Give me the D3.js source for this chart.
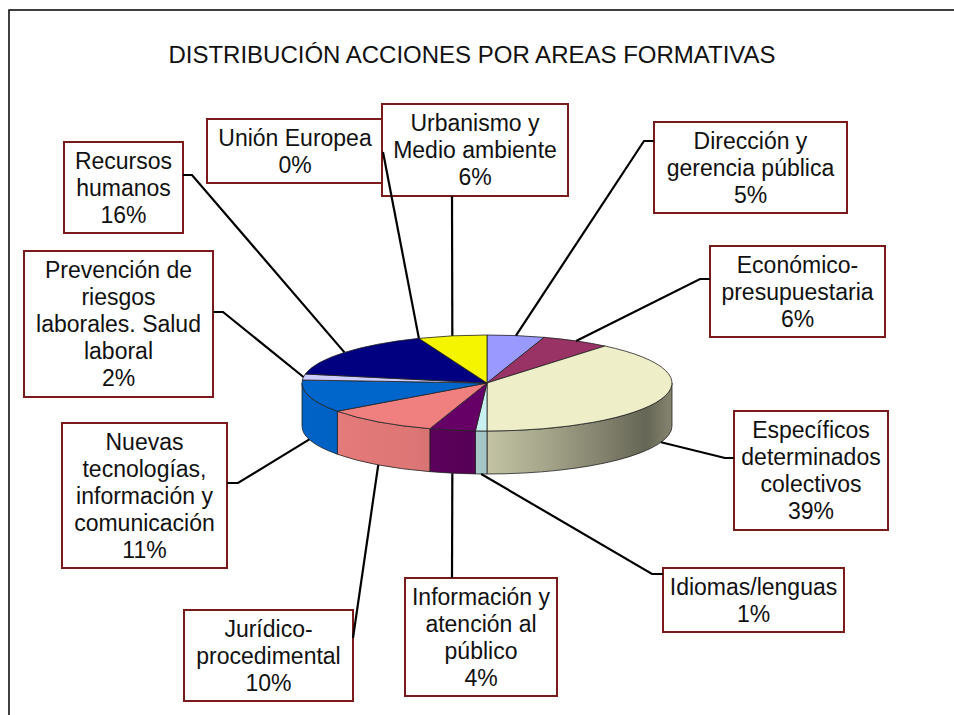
<!DOCTYPE html>
<html>
<head>
<meta charset="utf-8">
<script src="https://cdn.jsdelivr.net/npm/d3@7"></script>
<style>
  body { margin: 0; background: #fff; }
  text { font-family: "Liberation Sans", Arial, sans-serif; fill: #111; }
</style>
</head>
<body>
<script>
const title = "DISTRIBUCIÓN ACCIONES POR AREAS FORMATIVAS";

const categories = [
  "Dirección y gerencia pública",
  "Económico-presupuestaria",
  "Específicos determinados colectivos",
  "Idiomas/lenguas",
  "Información y atención al público",
  "Jurídico-procedimental",
  "Nuevas tecnologías, información y comunicación",
  "Prevención de riesgos laborales. Salud laboral",
  "Recursos humanos",
  "Unión Europea",
  "Urbanismo y Medio ambiente"
];

const values = [5, 6, 39, 1, 4, 10, 11, 2, 16, 0, 6];

const colors = [
  "#9999FF", "#993366", "#EEEEC8", "#C8F0F0", "#660066", "#F08080",
  "#0066CC", "#CCCCFF", "#000080", "#FF00FF", "#F5F500"
];

// label text, wrapped the way the original boxes wrap it
const labelLines = [
  ["Dirección y", "gerencia pública"],
  ["Económico-", "presupuestaria"],
  ["Específicos", "determinados", "colectivos"],
  ["Idiomas/lenguas"],
  ["Información y", "atención al", "público"],
  ["Jurídico-", "procedimental"],
  ["Nuevas", "tecnologías,", "información y", "comunicación"],
  ["Prevención de", "riesgos", "laborales. Salud", "laboral"],
  ["Recursos", "humanos"],
  ["Unión Europea"],
  ["Urbanismo y", "Medio ambiente"]
];

// label box layout: [x, y, w, h], where the leader meets it, optional elbow
const boxes = [
  { r: [654, 122, 193, 91], at: [654, 141], elbow: [644, 141] },
  { r: [710, 246, 175, 91], at: [710, 279], elbow: [700, 279] },
  { r: [734, 411, 154, 119], at: [734, 458], elbow: [725, 458] },
  { r: [663, 568, 181, 64], at: [663, 574], elbow: [652, 574] },
  { r: [405, 578, 152, 118], at: [452, 578], elbow: null },
  { r: [184, 610, 169, 91], at: [353, 638], elbow: null },
  { r: [62, 423, 165, 145], at: [227, 483], elbow: [238, 483] },
  { r: [24, 251, 189, 146], at: [213, 312], elbow: [223, 312] },
  { r: [64, 142, 119, 91], at: [183, 175], elbow: [192, 175] },
  { r: [207, 119, 176, 64], at: [383, 152], elbow: null },
  { r: [382, 104, 186, 92], at: [452, 196], elbow: null }
];

const width = 954, height = 715;
const cx = 487, cy = 383, rx = 185, ry = 48, depth = 43;

const svg = d3.select('body').append('svg')
  .attr('width', width)
  .attr('height', height);

// outer frame (only top and left edges show in the picture)
svg.append('path')
  .attr('d', `M9,${height} L9,10 L${width},10`)
  .attr('fill', 'none')
  .attr('stroke', '#000')
  .attr('stroke-width', 1.5);

svg.append('text')
  .attr('x', 472)
  .attr('y', 63)
  .attr('text-anchor', 'middle')
  .style('font-size', '24px')
  .text(title);

const arcs = d3.pie().sort(null).value(d => d)(values);

const pt = (a, dy = 0) => [cx + rx * Math.sin(a), cy - ry * Math.cos(a) + dy];
const fmt = p => `${p[0].toFixed(2)},${p[1].toFixed(2)}`;

// side wall gradients, lit from the left, dark toward the right edge
const shade = [[0, 0.97], [0.3, 0.92], [0.5, 0.82], [0.65, 0.7], [0.8, 0.56], [0.93, 0.43], [1, 0.56]];
const defs = svg.append('defs');
colors.forEach((c, i) => {
  const g = defs.append('linearGradient')
    .attr('id', `side${i}`)
    .attr('gradientUnits', 'userSpaceOnUse')
    .attr('x1', cx - rx).attr('x2', cx + rx)
    .attr('y1', 0).attr('y2', 0);
  const base = d3.rgb(c);
  shade.forEach(([o, k]) => {
    g.append('stop')
      .attr('offset', o)
      .attr('stop-color', d3.rgb(base.r * k, base.g * k, base.b * k).formatHex());
  });
});

const pieG = svg.append('g');

// outer walls, front half only
arcs.forEach((d, i) => {
  const a0 = Math.max(d.startAngle, Math.PI / 2);
  const a1 = Math.min(d.endAngle, 3 * Math.PI / 2);
  if (a1 <= a0) return;
  pieG.append('path')
    .attr('d', `M${fmt(pt(a0))} A${rx},${ry} 0 0 1 ${fmt(pt(a1))} L${fmt(pt(a1, depth))} A${rx},${ry} 0 0 0 ${fmt(pt(a0, depth))} Z`)
    .attr('fill', `url(#side${i})`)
    .attr('stroke', '#222')
    .attr('stroke-width', 0.8);
});

// top faces
arcs.forEach((d, i) => {
  const big = d.endAngle - d.startAngle > Math.PI ? 1 : 0;
  pieG.append('path')
    .attr('d', `M${cx},${cy} L${fmt(pt(d.startAngle))} A${rx},${ry} 0 ${big} 1 ${fmt(pt(d.endAngle))} Z`)
    .attr('fill', colors[i])
    .attr('stroke', '#222')
    .attr('stroke-width', 0.8)
    .attr('stroke-linejoin', 'round');
});

// label boxes
const boxG = svg.append('g');
boxes.forEach((b, i) => {
  const [x, y, w, h] = b.r;
  boxG.append('rect')
    .attr('x', x).attr('y', y)
    .attr('width', w).attr('height', h)
    .attr('fill', '#fff')
    .attr('stroke', '#7A1A1A')
    .attr('stroke-width', 2);
  const lines = labelLines[i].concat([`${values[i]}%`]);
  const lh = 27;
  const midY = y + h / 2;
  boxG.append('text')
    .attr('text-anchor', 'middle')
    .style('font-size', '23px')
    .selectAll('tspan')
    .data(lines)
    .join('tspan')
    .attr('x', x + w / 2)
    .attr('y', (t, j) => midY + (j - (lines.length - 1) / 2) * lh)
    .attr('dy', '0.36em')
    .text(t => t);
});

// leader lines from slice to box
const leadG = svg.append('g');
arcs.forEach((d, i) => {
  const mid = (d.startAngle + d.endAngle) / 2;
  const anchor = Math.cos(mid) < 0 ? pt(mid, depth) : pt(mid);
  const b = boxes[i];
  const pts = [anchor];
  if (b.elbow) pts.push(b.elbow);
  pts.push(b.at);
  leadG.append('path')
    .attr('d', d3.line()(pts))
    .attr('fill', 'none')
    .attr('stroke', '#000')
    .attr('stroke-width', 2.2);
});
</script>
</body>
</html>
